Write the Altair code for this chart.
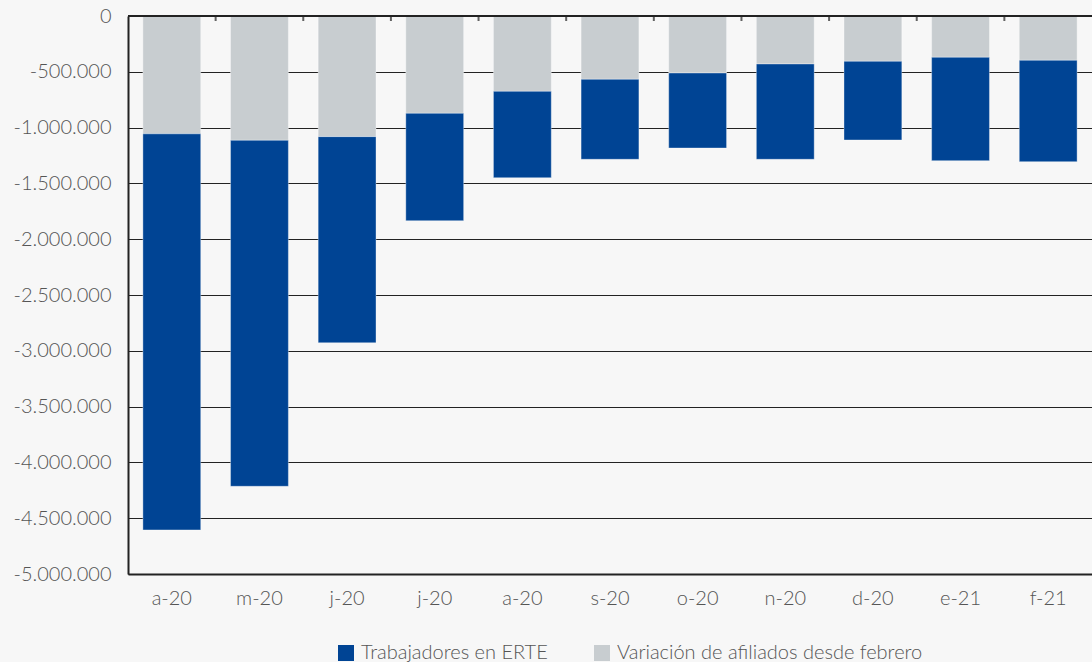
import altair as alt
import pandas as pd

# Month labels (Apr 2020 - Feb 2021)
months = ["a-20", "m-20", "j-20", "j-20", "a-20", "s-20", "o-20", "n-20", "d-20", "e-21", "f-21"]
# Variación de afiliados desde febrero
afiliados = [-1056000, -1114000, -1081000, -872000, -675000, -567000, -511000, -430000, -406000, -370000, -397000]
# Trabajadores en ERTE
erte = [-3549000, -3100000, -1847000, -962000, -774000, -717000, -672000, -854000, -705000, -926000, -908000]

series_erte = "Trabajadores en ERTE"
series_afil = "Variación de afiliados desde febrero"

rows = []
for i, m in enumerate(months):
    rows.append({"idx": i, "serie": series_afil, "valor": afiliados[i], "ord": 0})
    rows.append({"idx": i, "serie": series_erte, "valor": erte[i], "ord": 1})
df = pd.DataFrame(rows)
df_cats = pd.DataFrame({"idx": list(range(len(months)))})

FONT = "Lato"
W = 964
step = W / len(months)
label_expr = "[" + ",".join("'" + m + "'" for m in months) + "][datum.value]"

xscale = alt.Scale(paddingInner=0.34, paddingOuter=0.17)

bars = alt.Chart(df).mark_bar(stroke="white", strokeOpacity=0.35, strokeWidth=1).encode(
    x=alt.X("idx:O", scale=xscale, title=None,
            axis=alt.Axis(orient="bottom", labelExpr=label_expr, labelAngle=0,
                          labelFont=FONT, labelFontSize=20, labelFontWeight=300,
                          labelColor="#555555",
                          labelPadding=14, ticks=False, domain=True,
                          domainColor="#222222", domainWidth=2)),
    y=alt.Y("valor:Q", stack="zero", title=None,
            scale=alt.Scale(domain=[-5000000, 0], nice=False),
            axis=alt.Axis(values=list(range(-5000000, 1, 500000)), format=",d",
                          labelFont=FONT, labelFontSize=20, labelFontWeight=300,
                          labelColor="#555555",
                          labelPadding=17, ticks=False, domainColor="#222222",
                          domainWidth=2, grid=True, gridColor="#222222", gridWidth=1)),
    color=alt.Color("serie:N",
                    scale=alt.Scale(domain=[series_erte, series_afil], range=["#004494", "#c8cdd0"]),
                    legend=alt.Legend(title=None, orient="none", direction="horizontal",
                                      legendX=208, legendY=627, symbolType="square",
                                      symbolSize=256, symbolStrokeWidth=0,
                                      labelFont=FONT, labelFontSize=20, labelFontWeight=300,
                                      labelColor="#555555", labelLimit=0,
                                      labelOffset=5, columnPadding=44, padding=0)),
    order=alt.Order("ord:Q", sort="ascending"),
)

# small ticks on the zero axis, between categories
ticks = alt.Chart(df_cats[df_cats["idx"] > 0]).mark_tick(
    orient="vertical", size=5, thickness=2, color="#222222",
    yOffset=2.5, xOffset=-step * 0.17,
).encode(
    x=alt.X("idx:O", scale=xscale, bandPosition=0),
    y=alt.datum(0),
)

zero_line = alt.Chart(df_cats).mark_rule(color="#222222", strokeWidth=2).encode(
    y=alt.datum(0)
)

chart = alt.layer(bars, ticks, zero_line).properties(
    width=W, height=558,
    padding={"left": 128, "top": 16, "right": 0, "bottom": 88},
    autosize=alt.AutoSizeParams(type="none"),
    background="#f7f7f7",
).configure_view(stroke=None).configure(
    locale={"number": {"decimal": ",", "thousands": ".", "grouping": [3],
                       "currency": ["", " €"], "minus": "-"}}
)

chart.save("out.html", embed_options={"renderer": "svg", "actions": False})
